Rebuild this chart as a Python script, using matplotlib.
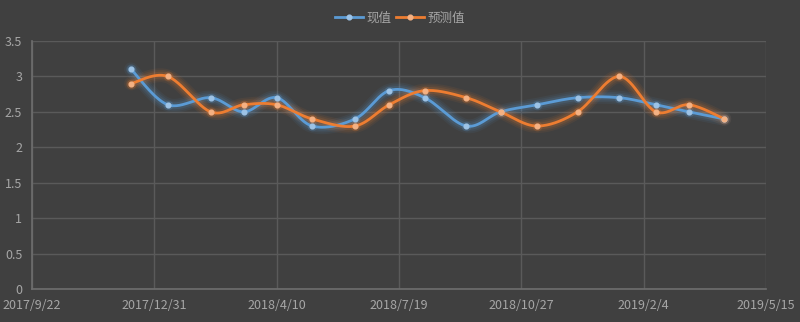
import numpy as np
import matplotlib
matplotlib.use("Agg")
import matplotlib.pyplot as plt
import matplotlib.dates as mdates
from matplotlib.lines import Line2D
import datetime as dt

plt.rcParams['font.family'] = ['Liberation Sans Narrow', 'Noto Sans CJK SC', 'DejaVu Sans']

dates = ["2017-12-12", "2018-01-11", "2018-02-15", "2018-03-14", "2018-04-10",
         "2018-05-09", "2018-06-13", "2018-07-11", "2018-08-09", "2018-09-12",
         "2018-10-10", "2018-11-09", "2018-12-12", "2019-01-15", "2019-02-14",
         "2019-03-13", "2019-04-11"]
actual = [3.1, 2.6, 2.7, 2.5, 2.7, 2.3, 2.4, 2.8, 2.7, 2.3, 2.5, 2.6, 2.7, 2.7, 2.6, 2.5, 2.4]
forecast = [2.9, 3.0, 2.5, 2.6, 2.6, 2.4, 2.3, 2.6, 2.8, 2.7, 2.5, 2.3, 2.5, 3.0, 2.5, 2.6, 2.4]
series_names = ["现值", "预测值"]
x_start, x_end, x_step_days = "2017-09-22", "2019-05-15", 100
y_ticks = [0, 0.5, 1, 1.5, 2, 2.5, 3, 3.5]

BG = "#404040"
GRID = "#5a5a5a"
TXT = "#a6a6a6"
colors = ["#5b9bd5", "#ed7d31"]
marker_fill = ["#9dc3e6", "#f4b183"]


def smooth(x, y, n=30):
    """Catmull-Rom style cubic Bezier through every point."""
    x = np.asarray(x, float)
    y = np.asarray(y, float)
    px = np.concatenate([[x[0]], x, [x[-1]]])
    py = np.concatenate([[y[0]], y, [y[-1]]])
    xs, ys = [], []
    t = np.linspace(0, 1, n)
    for i in range(1, len(px) - 2):
        p0 = np.array([px[i], py[i]])
        p3 = np.array([px[i + 1], py[i + 1]])
        c1 = p0 + (np.array([px[i + 1], py[i + 1]]) - np.array([px[i - 1], py[i - 1]])) / 6
        c2 = p3 - (np.array([px[i + 2], py[i + 2]]) - np.array([px[i], py[i]])) / 6
        b = ((1 - t) ** 3)[:, None] * p0 + (3 * (1 - t) ** 2 * t)[:, None] * c1 \
            + (3 * (1 - t) * t ** 2)[:, None] * c2 + (t ** 3)[:, None] * p3
        xs.extend(b[:, 0])
        ys.extend(b[:, 1])
    return np.array(xs), np.array(ys)


fig = plt.figure(figsize=(8, 3.22), dpi=100, facecolor=BG)
ax = fig.add_axes([32 / 800, 1 - 289 / 322, 734 / 800, 248 / 322], facecolor=BG)

xd = mdates.date2num([dt.date.fromisoformat(d) for d in dates])
x0 = mdates.date2num(dt.date.fromisoformat(x_start))
x1 = mdates.date2num(dt.date.fromisoformat(x_end))

for vals, c, mf in zip([actual, forecast], colors, marker_fill):
    sx, sy = smooth(xd, vals)
    for w, a in [(10, 0.07), (7.5, 0.09), (5, 0.14)]:
        ax.plot(sx, sy, color=c, lw=w, alpha=a, solid_capstyle='round', zorder=2)
    ax.plot(sx, sy, color=c, lw=2.0, zorder=3, solid_capstyle='round')
    ax.plot(xd, vals, ls='none', marker='o', ms=7, color=c, alpha=0.2, mec='none', zorder=3)
    ax.plot(xd, vals, ls='none', marker='o', ms=3.4, mfc=mf, mec=mf, zorder=4)

ax.set_xlim(x0, x1)
ax.set_ylim(0, 3.5)
xt = np.arange(x0, x1 + 1, x_step_days)
ax.set_xticks(xt)
ax.set_xticklabels([f"{mdates.num2date(v).year}/{mdates.num2date(v).month}/{mdates.num2date(v).day}" for v in xt])
ax.set_yticks(y_ticks)
ax.set_yticklabels([f"{v:g}" for v in y_ticks])
ax.grid(True, color=GRID, lw=1)
ax.set_axisbelow(True)
for s in ['top', 'right']:
    ax.spines[s].set_visible(False)
for s in ['left', 'bottom']:
    ax.spines[s].set_color("#6e6e6e")
    ax.spines[s].set_linewidth(1.2)
ax.tick_params(length=0, colors=TXT, labelsize=9)
ax.tick_params(axis='x', pad=7)
ax.tick_params(axis='y', pad=7)

handles = [Line2D([0], [0], color=c, lw=2, marker='o', ms=3.4, mfc=mf, mec=mf)
           for c, mf in zip(colors, marker_fill)]
leg = fig.legend(handles, series_names, loc='center', bbox_to_anchor=(0.5, 1 - 18 / 322),
                 ncol=2, frameon=False, handlelength=2.2, handletextpad=0.3,
                 columnspacing=0.4, prop={'family': ['Noto Sans CJK SC'], 'size': 9})
for t in leg.get_texts():
    t.set_color(TXT)

fig.savefig("out.png", dpi=100, facecolor=BG)
